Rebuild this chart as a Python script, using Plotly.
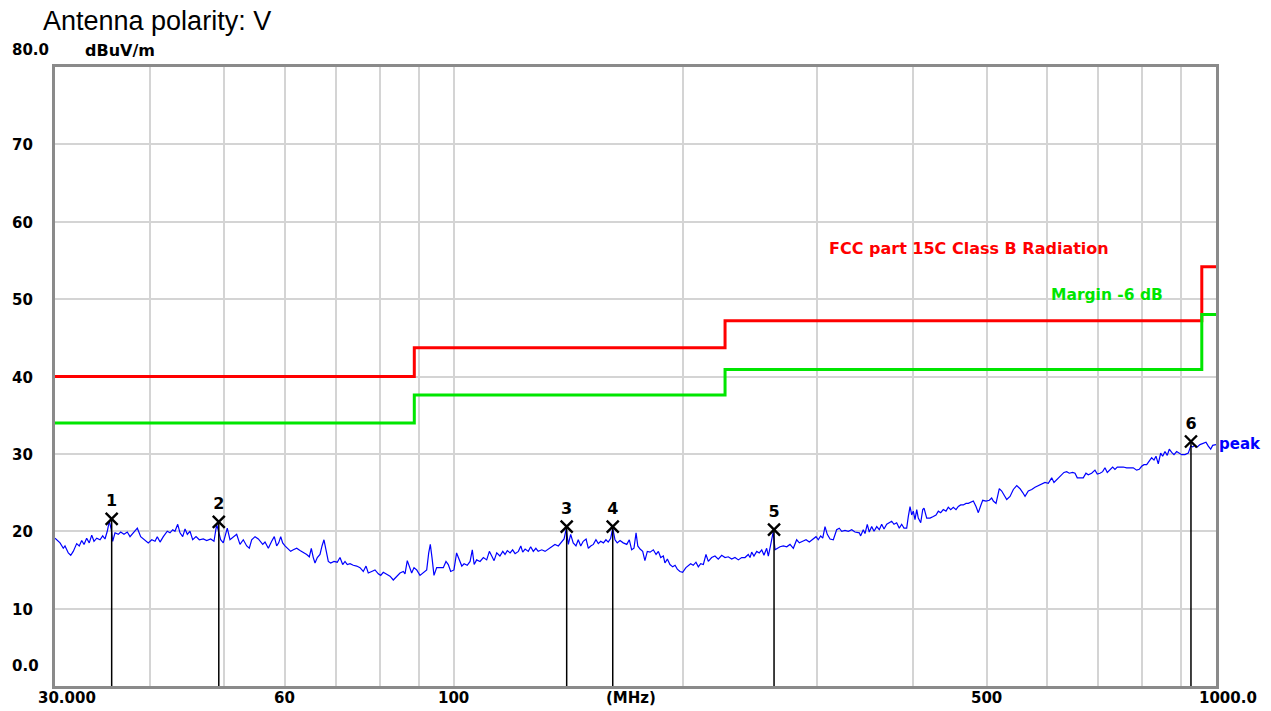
import math
import plotly.graph_objects as go

# ---------------- data ----------------
peak_freq = [30.0, 30.46, 30.76, 30.92, 31.23, 31.46, 31.70, 32.03, 32.28, 32.52, 32.75, 33.01, 33.27, 33.52,
             33.75, 34.03, 34.37, 34.65, 34.89, 35.13, 35.35, 35.56, 35.71, 35.96, 36.32, 36.58, 36.95, 37.32,
             37.63, 38.00, 38.47, 38.86, 39.25, 39.76, 40.18, 40.58, 40.86, 41.20, 41.61, 42.11, 42.46, 42.81,
             43.10, 43.46, 43.76, 44.12, 44.43, 44.74, 45.10, 45.47, 45.93, 46.39, 46.95, 47.44, 48.01, 48.49,
             48.89, 49.19, 49.48, 49.87, 50.48, 50.89, 51.40, 51.93, 52.45, 52.98, 53.53, 53.95, 54.34, 54.89,
             55.44, 56.18, 56.57, 57.14, 57.72, 58.18, 58.60, 58.96, 59.32, 59.67, 60.09, 60.69, 61.13, 61.62,
             62.25, 62.88, 63.51, 64.16, 64.67, 65.06, 65.45, 65.79, 66.25, 66.79, 67.20, 67.60, 68.01, 68.49,
             68.98, 69.68, 70.37, 70.95, 71.53, 72.03, 72.53, 73.13, 73.86, 74.62, 75.37, 76.12, 76.75, 77.28,
             78.08, 78.86, 79.65, 80.23, 80.86, 81.70, 82.52, 83.34, 84.20, 85.05, 85.90, 86.34, 86.94, 87.47,
             88.10, 88.72, 89.45, 90.34, 91.25, 92.19, 92.75, 93.20, 93.68, 94.24, 95.01, 95.97, 96.93, 97.72,
             98.40, 99.12, 100.1, 100.9, 101.7, 102.5, 103.2, 104.2, 105.1, 105.8, 106.4, 107.2, 108.3, 109.4,
             110.5, 111.4, 112.2, 113.0, 113.9, 115.0, 116.0, 116.8, 117.6, 118.6, 119.5, 120.4, 121.6, 122.5,
             123.2, 124.1, 125.3, 126.2, 127.2, 128.2, 129.1, 130.5, 131.8, 133.1, 134.5, 135.8, 137.2, 138.6,
             139.6, 140.5, 141.4, 142.4, 143.5, 144.7, 145.7, 146.8, 147.9, 149.2, 150.2, 151.3, 152.5, 153.7,
             154.8, 155.9, 157.2, 158.4, 159.5, 160.7, 161.7, 162.8, 163.9, 165.3, 166.9, 168.7, 170.0, 171.2,
             172.4, 173.5, 174.4, 175.6, 177.0, 178.2, 179.5, 181.0, 182.8, 184.3, 185.6, 186.9, 188.4, 189.3,
             190.7, 192.2, 193.8, 195.2, 196.5, 198.1, 199.7, 201.7, 203.2, 204.6, 206.2, 207.9, 209.4, 210.9,
             212.6, 214.3, 215.8, 218.0, 220.2, 222.4, 224.7, 227.0, 229.2, 231.6, 233.9, 236.3, 238.7, 241.1,
             243.5, 244.8, 246.0, 247.7, 249.8, 251.7, 253.6, 255.3, 257.4, 258.7, 260.6, 262.5, 264.0, 265.8,
             268.0, 270.7, 273.5, 276.2, 279.0, 281.8, 284.1, 287.0, 289.9, 292.8, 295.8, 298.8, 300.8, 303.0,
             304.9, 307.0, 309.1, 311.7, 314.8, 318.0, 320.5, 322.9, 326.1, 329.4, 332.8, 336.1, 340.5, 341.9,
             344.6, 346.4, 348.8, 350.9, 353.5, 356.0, 358.9, 361.7, 364.3, 366.9, 369.9, 372.8, 375.5, 378.1,
             381.2, 384.2, 387.0, 389.7, 392.9, 394.8, 396.9, 398.9, 400.8, 402.9, 405.0, 406.9, 409.9, 412.4,
             414.0, 417.4, 421.6, 425.8, 429.3, 432.3, 435.4, 438.8, 442.4, 445.5, 448.8, 452.3, 456.0, 459.2,
             462.5, 466.2, 470.0, 473.3, 476.7, 480.5, 484.4, 487.8, 491.3, 494.3, 499.3, 504.3, 507.9, 510.4,
             514.6, 516.6, 519.7, 523.5, 527.2, 531.5, 536.8, 542.2, 547.8, 553.3, 557.8, 561.7, 567.3, 573.2,
             578.9, 584.7, 590.7, 596.6, 602.6, 608.8, 613.0, 619.2, 625.6, 631.8, 637.0, 642.0, 648.6, 653.2,
             657.7, 663.1, 669.7, 675.2, 679.9, 686.9, 693.8, 698.7, 704.4, 710.1, 715.1, 720.1, 726.0, 731.9,
             737.0, 742.2, 748.2, 755.7, 763.5, 771.2, 778.9, 786.9, 793.1, 798.9, 804.5, 811.1, 817.5, 823.4,
             829.2, 834.2, 840.0, 846.1, 851.2, 857.2, 863.1, 868.4, 874.7, 880.8, 888.0, 895.0, 901.5, 910.6,
             919.7, 926.5, 932.0, 938.5, 945.0, 952.8, 962.3, 970.2, 977.0, 984.1, 990.0, 1000.0]
peak_level = [19.1, 18.5, 17.8, 18.1, 17.2, 16.9, 17.4, 18.4, 18.1, 18.8, 18.3, 19.1, 18.5, 19.5,
              18.7, 19.1, 18.9, 19.4, 19.0, 20.0, 21.3, 20.2, 18.7, 19.8, 19.6, 19.9, 19.6, 19.9,
              19.3, 19.8, 20.4, 19.3, 18.9, 18.5, 18.9, 18.7, 19.3, 18.6, 19.3, 20.0, 19.8, 20.2,
              20.0, 20.9, 19.8, 19.3, 20.3, 19.6, 20.0, 18.9, 19.3, 18.9, 19.0, 18.8, 19.0, 18.7,
              20.9, 20.0, 18.9, 18.5, 20.4, 18.9, 19.3, 19.6, 18.3, 18.9, 18.1, 17.8, 18.9, 19.3,
              19.0, 18.3, 18.6, 17.8, 18.7, 19.3, 18.1, 18.5, 19.3, 18.5, 18.1, 17.7, 17.4, 17.6,
              17.8, 17.5, 17.3, 17.0, 16.7, 17.8, 16.6, 15.9, 16.6, 17.0, 18.1, 18.9, 17.6, 16.1,
              15.9, 16.1, 16.0, 16.6, 15.7, 16.1, 15.7, 15.8, 15.6, 15.5, 15.3, 14.8, 15.5, 14.6,
              14.8, 15.0, 14.5, 14.3, 14.7, 14.4, 14.2, 13.7, 14.1, 14.6, 14.8, 14.5, 16.2, 15.5,
              14.6, 15.3, 15.0, 14.3, 14.7, 15.0, 17.2, 18.3, 16.6, 14.3, 15.3, 15.3, 15.3, 16.1,
              15.7, 14.8, 15.0, 17.2, 16.3, 15.5, 15.8, 15.6, 16.1, 17.6, 15.7, 16.3, 16.1, 16.6,
              16.3, 17.4, 16.8, 16.2, 17.2, 16.8, 17.4, 17.0, 17.5, 17.2, 17.6, 17.1, 17.4, 18.1,
              17.3, 17.7, 17.4, 18.0, 17.4, 17.8, 17.4, 17.6, 17.4, 17.7, 18.1, 18.3, 18.1, 18.7,
              19.0, 20.3, 18.3, 19.6, 18.5, 18.1, 18.9, 18.1, 18.7, 19.0, 17.8, 18.1, 18.3, 18.9,
              18.4, 18.7, 18.5, 18.9, 18.6, 19.1, 20.4, 18.9, 18.5, 18.8, 18.5, 18.3, 18.9, 17.6,
              17.8, 19.8, 18.1, 17.7, 17.4, 16.2, 17.4, 17.3, 17.6, 17.0, 17.4, 16.6, 16.8, 15.9,
              16.4, 15.7, 15.4, 15.6, 15.1, 14.8, 14.7, 15.3, 15.6, 15.8, 15.6, 16.0, 15.4, 15.8,
              15.7, 17.0, 16.1, 16.6, 16.8, 16.4, 16.9, 16.6, 16.7, 16.4, 16.6, 16.3, 16.6, 16.6,
              17.0, 16.6, 17.3, 16.8, 17.4, 17.2, 17.6, 16.9, 17.8, 16.8, 18.3, 19.9, 17.6, 17.8,
              18.0, 18.1, 18.0, 18.3, 17.8, 18.9, 18.5, 18.7, 18.9, 18.6, 19.0, 19.3, 18.9, 19.4,
              19.1, 20.6, 19.6, 19.0, 18.9, 20.2, 20.4, 20.0, 20.1, 20.0, 20.2, 19.9, 19.8, 19.4,
              20.2, 19.7, 20.9, 19.9, 20.6, 20.0, 20.6, 20.2, 20.9, 20.3, 20.9, 21.1, 21.3, 20.9,
              21.1, 20.4, 20.9, 20.4, 20.4, 21.9, 23.2, 22.1, 22.6, 21.5, 22.8, 21.7, 21.1, 22.8,
              23.0, 21.7, 21.7, 21.9, 22.1, 22.6, 22.4, 22.8, 22.6, 23.1, 22.8, 23.1, 22.8, 23.2,
              23.4, 23.4, 23.6, 23.6, 23.7, 23.9, 23.2, 22.4, 23.3, 24.0, 23.9, 24.0, 24.3, 23.9,
              23.6, 24.5, 25.5, 25.2, 24.7, 24.1, 24.5, 25.4, 25.9, 25.5, 25.0, 24.5, 25.2, 25.4,
              25.7, 25.9, 26.0, 26.3, 26.2, 26.9, 26.3, 26.7, 27.2, 27.6, 27.7, 27.5, 27.6, 27.5,
              26.9, 26.9, 26.9, 27.5, 27.3, 27.5, 27.9, 27.4, 27.5, 27.7, 28.2, 27.6, 28.0, 28.3,
              28.0, 28.3, 28.3, 28.3, 28.2, 28.2, 28.2, 27.9, 28.0, 28.4, 28.6, 28.6, 29.0, 29.5,
              29.2, 29.7, 28.7, 30.1, 29.7, 30.3, 29.8, 30.6, 30.2, 29.9, 30.3, 30.1, 29.9, 29.9,
              30.1, 31.0, 30.9, 31.1, 30.9, 31.2, 31.4, 31.5, 31.0, 30.6, 31.1, 31.2]

limit_freq = [30, 88.8, 227, 958, 1000]
limit_level = [40.0, 43.7, 47.2, 54.2, 54.2]
margin_level = [34.0, 37.6, 40.9, 48.0, 48.0]

marker_freq = [35.6, 49.2, 140.7, 161.7, 263.2, 927.2]
marker_level = [21.6, 21.2, 20.6, 20.6, 20.2, 31.6]
marker_label = ["1", "2", "3", "4", "5", "6"]

x_grid = [30, 40, 50, 60, 70, 80, 90, 100, 200, 300, 400, 500, 600, 700, 800, 900, 1000]
x_label_text = ["30.000", "60", "100", "(MHz)", "500", "1000.0"]
x_label_freq = [30, 60, 100, 171, 500, 1000]
y_label_value = [80, 70, 60, 50, 40, 30, 20, 10, 0]
y_label_text = ["80.0", "70", "60", "50", "40", "30", "20", "10", "0.0"]

# ---------------- figure ----------------
W, H = 1271, 711
ML, MR, MT, MB = 55, 55, 67, 25
PW, PH = W - ML - MR, H - MT - MB
BOLD = "DejaVu Sans"

fig = go.Figure()

fig.add_trace(go.Scatter(x=limit_freq, y=limit_level, mode="lines", line=dict(color="#ff0000", width=3, shape="hv"),
                         hoverinfo="skip", showlegend=False))
fig.add_trace(go.Scatter(x=limit_freq, y=margin_level, mode="lines", line=dict(color="#00e600", width=3, shape="hv"),
                         hoverinfo="skip", showlegend=False))
fig.add_trace(go.Scatter(x=peak_freq, y=peak_level, mode="lines", line=dict(color="#0000ff", width=1.2),
                         showlegend=False))

vx, vy = [], []
for f, v in zip(marker_freq, marker_level):
    vx += [f, f, None]
    vy += [0, v, None]
fig.add_trace(go.Scatter(x=vx, y=vy, mode="lines", line=dict(color="#000000", width=1.5),
                         hoverinfo="skip", showlegend=False))
fig.add_trace(go.Scatter(x=marker_freq, y=marker_level, mode="markers+text", text=marker_label,
                         textposition="top center",
                         textfont=dict(family=BOLD, size=16, color="#000000", weight="bold"),
                         marker=dict(symbol="x-thin-open", size=12, color="#000000",
                                     line=dict(color="#000000", width=2.4)),
                         showlegend=False))

ann = []
# y tick labels
for v, t in zip(y_label_value, y_label_text):
    shift = -1
    if t == "80.0":
        shift = 17
    elif t == "0.0":
        shift = 20
    ann.append(dict(xref="paper", yref="y", x=(10 - ML) / PW, y=v, yshift=shift, xanchor="left", yanchor="middle",
                    text="<b>%s</b>" % t, showarrow=False, font=dict(family=BOLD, size=15, color="#000000")))
# x tick labels
for f, t in zip(x_label_freq, x_label_text):
    shift = 0
    if t in ("30.000", "1000.0"):
        shift = 12
    ann.append(dict(xref="x", yref="paper", x=math.log10(f), y=-12 / PH, xshift=shift,
                    xanchor="center", yanchor="middle", text="<b>%s</b>" % t, showarrow=False,
                    font=dict(family=BOLD, size=15, color="#000000")))
# unit
ann.append(dict(xref="paper", yref="paper", x=(120 - ML) / PW, y=1 + 17 / PH, xanchor="center", yanchor="middle",
                text="<b>dBuV/m</b>", showarrow=False, font=dict(family=BOLD, size=16, color="#000000")))
# title
ann.append(dict(xref="paper", yref="paper", x=(41 - ML) / PW, y=1 + (MT - 21) / PH, xanchor="left", yanchor="middle",
                text="Antenna polarity: V", showarrow=False,
                font=dict(family="Liberation Sans", size=27, color="#000000")))
# legend texts
ann.append(dict(xref="paper", yref="paper", x=(827 - ML) / PW, y=(H - MB - 248) / PH, xanchor="left",
                yanchor="middle", text="<b>FCC part 15C Class B Radiation</b>", showarrow=False,
                font=dict(family=BOLD, size=16, color="#ff0000")))
ann.append(dict(xref="paper", yref="paper", x=(1049 - ML) / PW, y=(H - MB - 295) / PH, xanchor="left",
                yanchor="middle", text="<b>Margin -6 dB</b>", showarrow=False,
                font=dict(family=BOLD, size=15.5, color="#00e600")))
ann.append(dict(xref="paper", yref="paper", x=(1217 - ML) / PW, y=(H - MB - 444) / PH, xanchor="left",
                yanchor="middle", text="<b>peak</b>", showarrow=False,
                font=dict(family=BOLD, size=15, color="#0000ff")))

fig.update_layout(
    width=W, height=H, margin=dict(l=ML, r=MR, t=MT, b=MB, pad=0),
    paper_bgcolor="#ffffff", plot_bgcolor="#ffffff",
    annotations=ann, hovermode=False,
    xaxis=dict(type="log", range=[math.log10(30), 3], tickvals=x_grid, showticklabels=False,
               ticks="", showgrid=True, gridcolor="#d4d4d4", gridwidth=2, zeroline=False,
               showline=True, linecolor="#8a8a8a", linewidth=3, mirror=True),
    yaxis=dict(range=[0, 80], tickvals=y_label_value, showticklabels=False, ticks="",
               showgrid=True, gridcolor="#d4d4d4", gridwidth=2, zeroline=False,
               showline=True, linecolor="#8a8a8a", linewidth=3, mirror=True),
)

fig.write_html("out.html", config={"displayModeBar": False},
               post_script="document.body.style.margin='0';document.body.style.overflow='hidden';")
